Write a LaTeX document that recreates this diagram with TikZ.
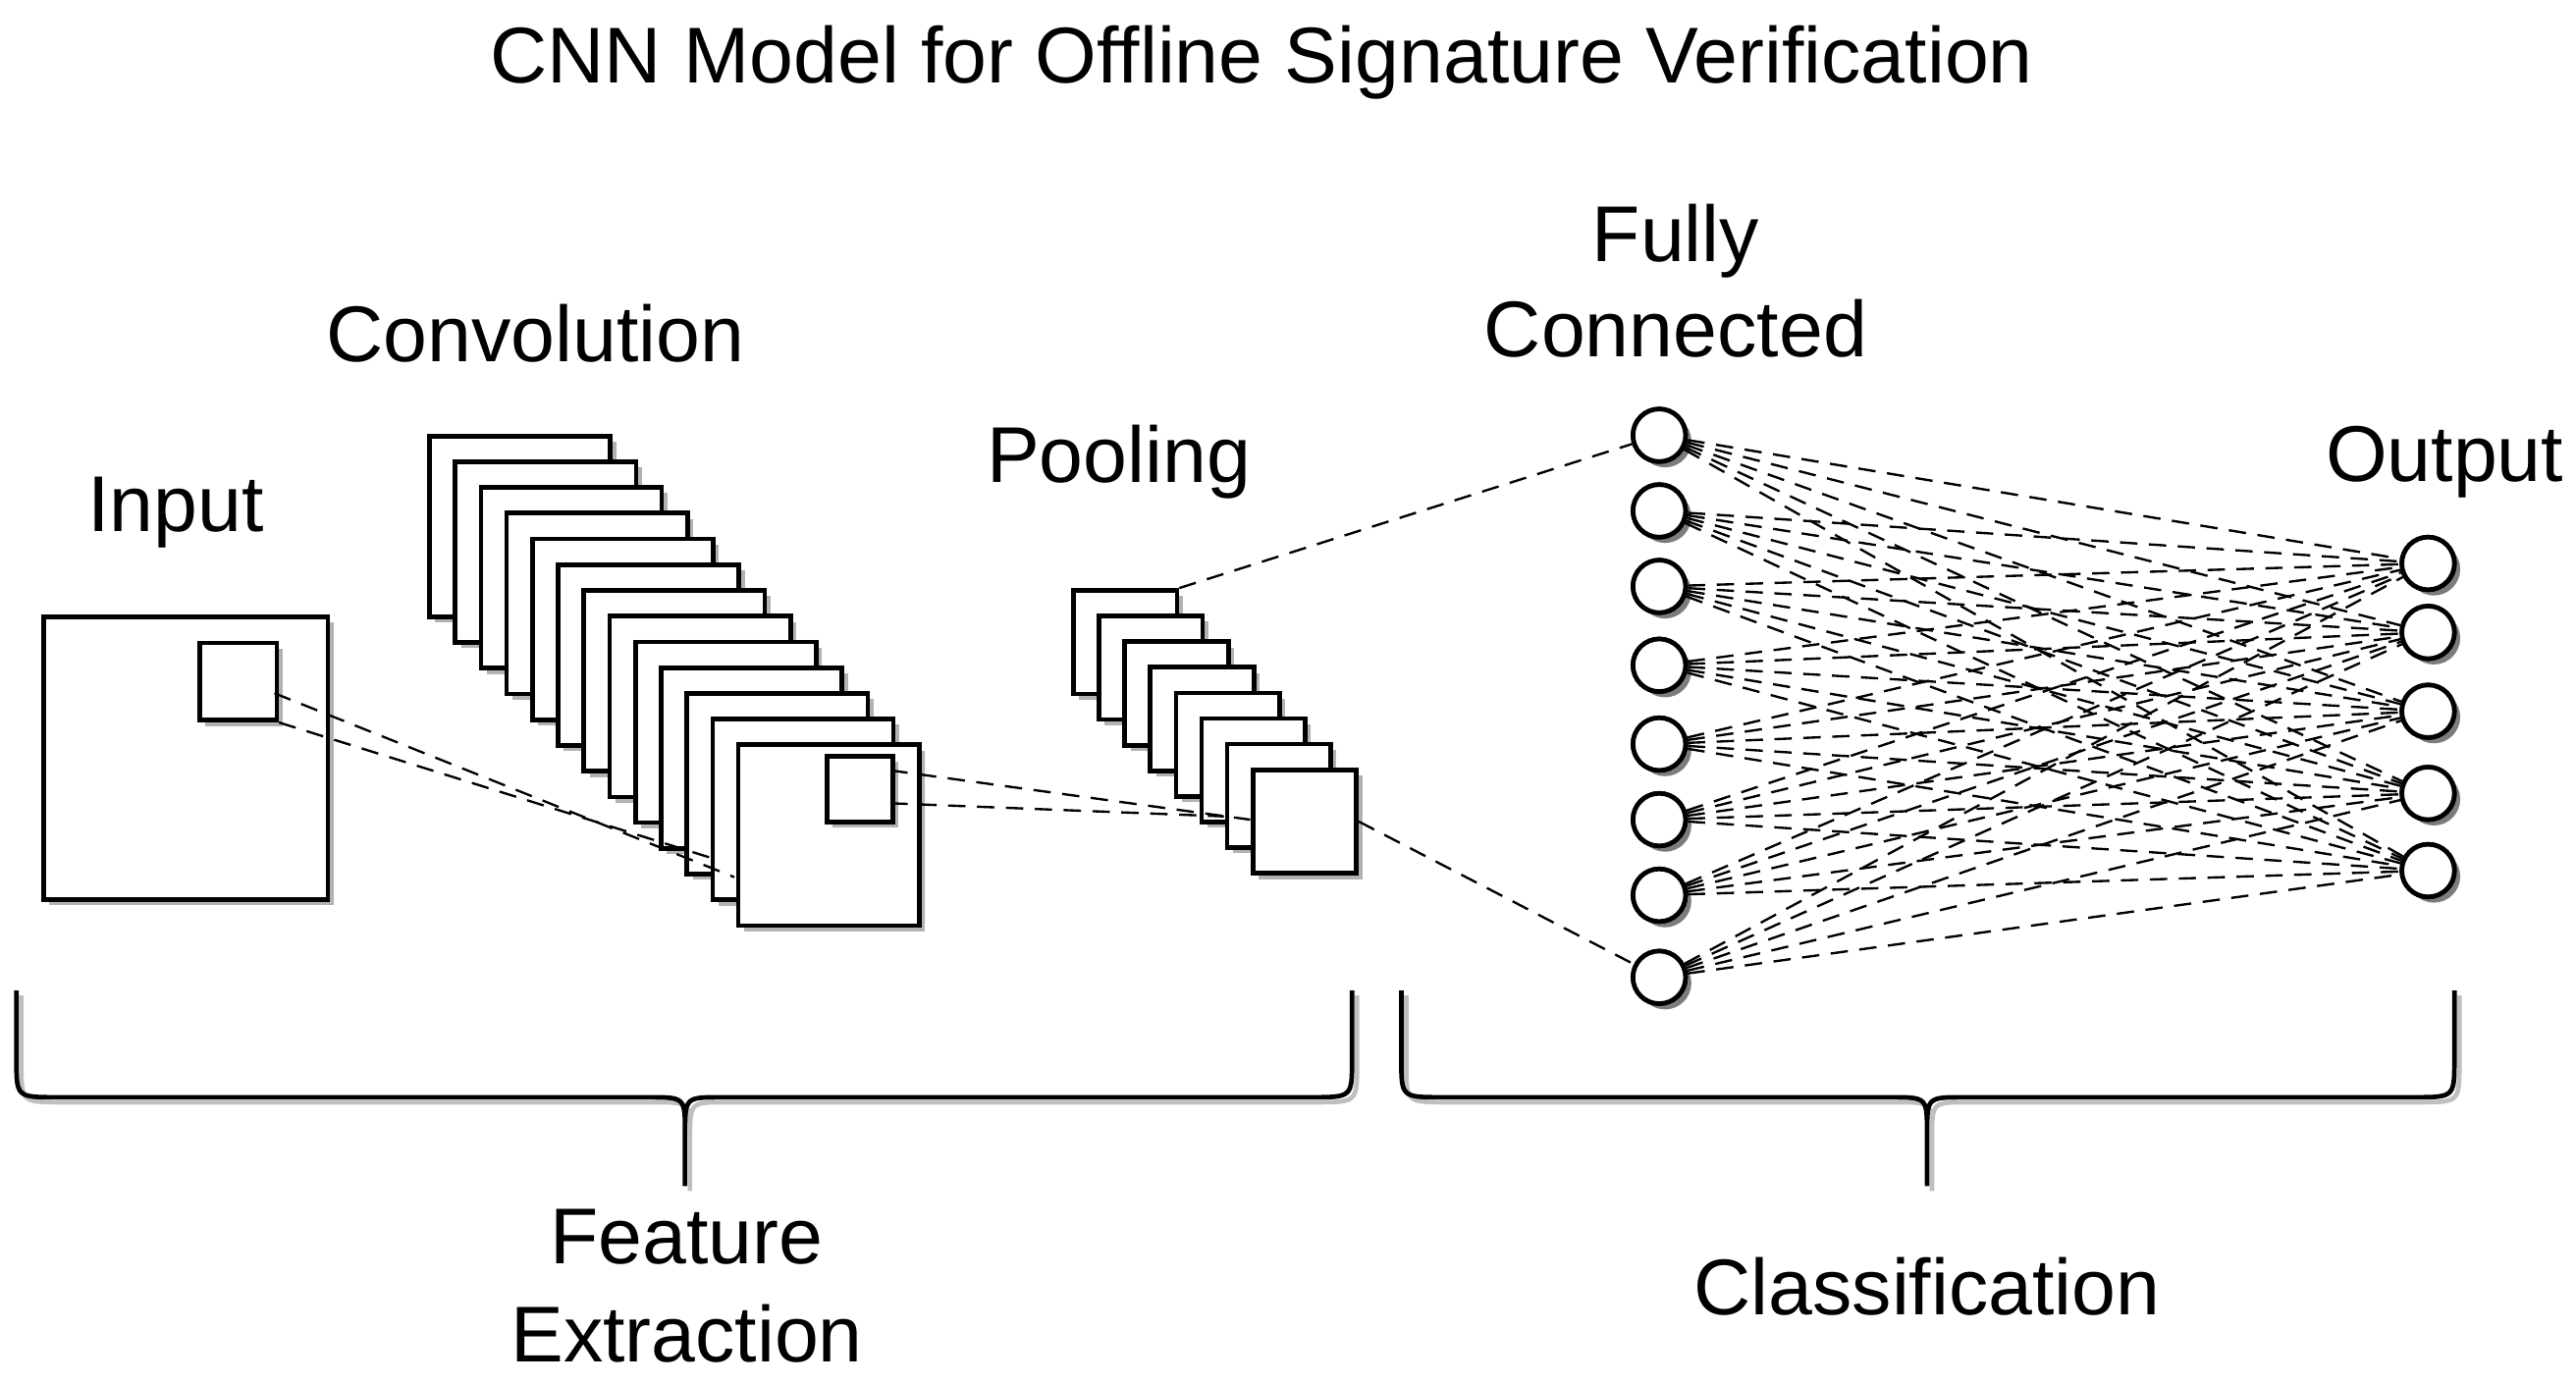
\documentclass[tikz,border=0pt]{standalone}
\usepackage{fontspec}
\setmainfont{Liberation Sans}
\usetikzlibrary{shadows}

\tikzstyle{shade} = [drop shadow={shadow xshift=0.035cm,shadow yshift=-0.035cm,opacity=0.3,fill=black}]
\tikzstyle{map} = [draw,thick,fill=white,shade,rectangle,anchor=north west,inner sep=0pt]
\tikzstyle{neuron} = [draw,thick,fill=white,shade,circle,minimum size=0.32cm,inner sep=0pt]
\tikzstyle{link} = [densely dashed,thin]
\tikzstyle{label} = [font=\fontsize{13.7}{17}\selectfont,align=center]
\tikzstyle{brace} = [thick,line join=round]
\tikzstyle{braceshade} = [thick,black!25,shift={(3,3)}]

\newcommand{\bracepath}[4]{% left x, right x, tip x, top y
  (#1,#4) -- (#1,#4+42) .. controls (#1,#4+65) .. (#1+25,#4+65) -- (#3-22,#4+65) .. controls (#3,#4+65) .. (#3,#4+87) -- (#3,#4+119)
  (#2,#4) -- (#2,#4+42) .. controls (#2,#4+65) .. (#2-25,#4+65) -- (#3+22,#4+65) .. controls (#3,#4+65) .. (#3,#4+87)}

\begin{document}
\begin{tikzpicture}[x=0.01cm,y=-0.01cm]
\useasboundingbox (0,0) rectangle (1568,842);

% Title
\node [font=\fontsize{13.7}{16}\selectfont] (title) at (768,38) {CNN Model for Offline Signature Verification};

% Input
\node [label] (lin) at (107,312) {Input};
\node [map,minimum width=1.73cm,minimum height=1.72cm] (input) at (25,374) {};
\node [map,minimum width=0.47cm,minimum height=0.47cm] (insub) at (120,390) {};

% Convolution stack
\node [label] (lconv) at (326,203) {Convolution};
\foreach \i in {1,...,13}
  \node [map,minimum width=1.1cm,minimum height=1.1cm] (conv\i) at (260+15.67*\i-15.67,264+15.67*\i-15.67) {};
\node [map,minimum width=0.4cm,minimum height=0.4cm] (convsub) at (502,459) {};

% Pooling stack
\node [label] (lpool) at (681,281) {Pooling};
\foreach \i in {1,...,8}
  \node [map,minimum width=0.63cm,minimum height=0.63cm] (pool\i) at (652+15.6*\i-15.6,358+15.6*\i-15.6) {};

% free ends of the dashed links
\coordinate (c1) at (447,534);
\coordinate (c2) at (432,522);
\coordinate (p1) at (761,499);
\coordinate (p2) at (745,497);

\draw [link] (167,422) -- (c1);
\draw [link] (insub.south east) -- (c2);
\draw [link] (542,469) -- (p1);
\draw [link] (542,489) -- (p2);

% Fully connected and output layers
\node [label,font=\fontsize{13.7}{16.5}\selectfont] (lfc) at (1020,171) {Fully\\Connected};
\node [label] (lout) at (1488,281) {Output};
\foreach \y [count=\i] in {265,311,357,405,453,499,545,595}
  \node [neuron] (fc\i) at (1010,\y) {};
\foreach \y [count=\j] in {343,385,433,483,530}
  \node [neuron] (out\j) at (1478,\y) {};

\draw [link] (pool1.north east) -- (fc1);
\draw [link] (pool8.east) -- (fc8);
\foreach \i in {1,...,8}
  \foreach \j in {1,...,5}
    \draw [link] (fc\i) -- (out\j);
\foreach \i in {1,...,8}
  \node [neuron] at (fc\i) {};
\foreach \j in {1,...,5}
  \node [neuron] at (out\j) {};

% Braces
\draw [braceshade] \bracepath{10}{823}{417}{603};
\draw [brace] \bracepath{10}{823}{417}{603};
\draw [braceshade] \bracepath{853}{1494}{1173}{603};
\draw [brace] \bracepath{853}{1494}{1173}{603};

\node [label,font=\fontsize{13.7}{17}\selectfont] (lfeat) at (418,783) {Feature\\Extraction};
\node [label] (lclass) at (1173,783) {Classification};

\end{tikzpicture}
\end{document}
